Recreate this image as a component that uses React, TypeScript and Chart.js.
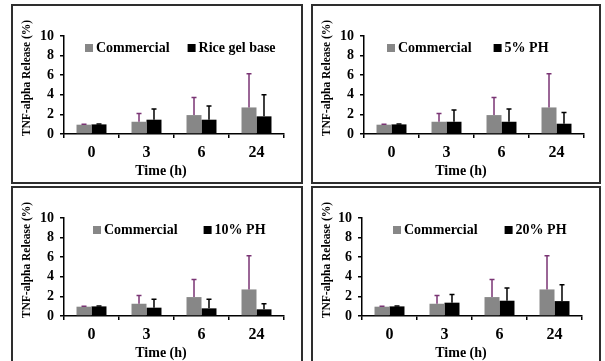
import React, { useEffect, useRef } from 'react';
import { Chart, registerables } from 'chart.js';

Chart.register(...registerables);

// ---------- data ----------
const timeLabels = ['0', '3', '6', '24'];
const yMin = 0;
const yMax = 10;
const yStep = 2;
const xTitle = 'Time (h)';
const yTitle = 'TNF-alpha Release (%)';

const commercialLabel = 'Commercial';
const commercialMean = [0.95, 1.25, 1.93, 2.71];
const commercialErr = [0.04, 0.83, 1.8, 3.45];

const riceGelLabel = 'Rice gel base';
const riceGelMean = [0.98, 1.46, 1.46, 1.8];
const riceGelErr = [0.04, 1.08, 1.39, 2.2];

const ph5Label = '5% PH';
const ph5Mean = [0.98, 1.25, 1.25, 1.05];
const ph5Err = [0.04, 1.19, 1.3, 1.15];

const ph10Label = '10% PH';
const ph10Mean = [0.98, 0.85, 0.78, 0.68];
const ph10Err = [0.04, 0.85, 0.92, 0.58];

const ph20Label = '20% PH';
const ph20Mean = [0.98, 1.36, 1.56, 1.52];
const ph20Err = [0.04, 0.84, 1.29, 1.68];

// ---------- layout / style ----------
const FONT = "'Liberation Serif', 'Times New Roman', serif";
const GRAY = '#878787';
const BLACK = '#000000';
const PURPLE = '#7a3474';

const panelLayouts = [
  { left: 11, top: 4, width: 292, height: 180, chartLeft: 53, legendStart: 21, legendGap: 18 },
  { left: 311, top: 4, width: 290, height: 180, chartLeft: 53, legendStart: 23, legendGap: 22 },
  { left: 11, top: 186, width: 292, height: 180, chartLeft: 53, legendStart: 29, legendGap: 26 },
  { left: 311, top: 186, width: 290, height: 180, chartLeft: 51, legendStart: 31, legendGap: 27 },
];

const panelSeries = [
  { label: riceGelLabel, mean: riceGelMean, err: riceGelErr },
  { label: ph5Label, mean: ph5Mean, err: ph5Err },
  { label: ph10Label, mean: ph10Mean, err: ph10Err },
  { label: ph20Label, mean: ph20Mean, err: ph20Err },
];

const decorPlugin = {
  id: 'decor',
  afterDatasetsDraw(chart: any) {
    const ctx = chart.ctx;
    const y = chart.scales.y;
    chart.data.datasets.forEach((ds: any, i: number) => {
      const meta = chart.getDatasetMeta(i);
      meta.data.forEach((bar: any, j: number) => {
        const v = ds.data[j];
        const e = ds.errors[j];
        const yTop = y.getPixelForValue(v + e);
        const yBase = y.getPixelForValue(v);
        ctx.save();
        ctx.strokeStyle = ds.errorColor;
        ctx.lineWidth = 1.5;
        ctx.beginPath();
        ctx.moveTo(bar.x, yBase);
        ctx.lineTo(bar.x, yTop);
        ctx.moveTo(bar.x - 2.5, yTop);
        ctx.lineTo(bar.x + 2.5, yTop);
        ctx.stroke();
        ctx.restore();
      });
    });
  },
  afterDraw(chart: any, _args: any, opts: any) {
    const ctx = chart.ctx;
    const area = chart.chartArea;
    ctx.save();
    // legend
    ctx.font = `bold 14px ${FONT}`;
    ctx.textBaseline = 'middle';
    ctx.textAlign = 'left';
    let x = area.left + opts.legendStart;
    const ly = area.top + 12;
    chart.data.datasets.forEach((ds: any) => {
      ctx.fillStyle = ds.backgroundColor;
      ctx.fillRect(x, ly - 4, 8, 8);
      ctx.fillStyle = '#000';
      ctx.fillText(ds.label, x + 11, ly);
      x += 11 + ctx.measureText(ds.label).width + opts.legendGap;
    });
    // x title
    ctx.font = `bold 14px ${FONT}`;
    ctx.textAlign = 'center';
    ctx.fillText(opts.xTitle, 150, 167);
    // y title
    ctx.font = `bold 11.5px ${FONT}`;
    ctx.translate(16, 74);
    ctx.rotate(-Math.PI / 2);
    ctx.fillText(opts.yTitle, 0, 0);
    ctx.restore();
  },
};

function Panel({ idx }: { idx: number }) {
  const ref = useRef<HTMLCanvasElement>(null);
  const L = panelLayouts[idx];
  const S = panelSeries[idx];
  useEffect(() => {
    const chart = new Chart(ref.current as HTMLCanvasElement, {
      type: 'bar',
      data: {
        labels: timeLabels,
        datasets: [
          {
            label: commercialLabel,
            data: commercialMean,
            errors: commercialErr,
            errorColor: PURPLE,
            backgroundColor: GRAY,
            borderWidth: 0,
            barPercentage: 1,
            categoryPercentage: 0.545,
          } as any,
          {
            label: S.label,
            data: S.mean,
            errors: S.err,
            errorColor: BLACK,
            backgroundColor: BLACK,
            borderWidth: 0,
            barPercentage: 1,
            categoryPercentage: 0.545,
          } as any,
        ],
      },
      options: {
        responsive: false,
        animation: false,
        devicePixelRatio: 1,
        layout: {
          padding: { top: 32, left: 0, bottom: 0, right: L.width - L.chartLeft - 220 },
        },
        plugins: {
          legend: { display: false },
          tooltip: { enabled: false },
          decor: {
            legendStart: L.legendStart,
            legendGap: L.legendGap,
            xTitle,
            yTitle,
          },
        } as any,
        scales: {
          x: {
            offset: true,
            grid: {
              offset: true,
              drawOnChartArea: false,
              drawTicks: true,
              tickLength: 4,
              color: '#000',
              lineWidth: 1.5,
            },
            border: { display: true, color: '#000', width: 1.5 },
            ticks: {
              font: { family: FONT, size: 16, weight: 'bold' },
              color: '#000',
              padding: 5,
              maxRotation: 0,
              autoSkip: false,
            },
            afterFit: (s: any) => {
              s.height = 50;
            },
          },
          y: {
            min: yMin,
            max: yMax,
            ticks: {
              stepSize: yStep,
              autoSkip: false,
              font: { family: FONT, size: 14, weight: 'bold' },
              color: '#000',
              padding: 6,
            },
            grid: {
              drawOnChartArea: false,
              drawTicks: true,
              tickLength: 4,
              color: '#000',
              lineWidth: 1.5,
            },
            border: { display: true, color: '#000', width: 1.5 },
            afterFit: (s: any) => {
              s.width = L.chartLeft;
            },
          },
        },
      } as any,
      plugins: [decorPlugin as any],
    });
    return () => chart.destroy();
  }, []);
  return (
    <div
      style={{
        position: 'absolute',
        left: L.left,
        top: L.top,
        width: L.width,
        height: L.height,
        background: '#fff',
      }}
    >
      <canvas
        ref={ref}
        width={L.width}
        height={L.height}
        style={{ display: 'block', width: L.width, height: L.height }}
      />
      <div
        style={{
          position: 'absolute',
          left: 0,
          top: 0,
          width: L.width,
          height: L.height,
          boxSizing: 'border-box',
          border: '2px solid #2e2e2e',
          pointerEvents: 'none',
        }}
      />
    </div>
  );
}

export default function App() {
  return (
    <div
      style={{
        position: 'absolute',
        left: 0,
        top: 0,
        width: 605,
        height: 361,
        overflow: 'hidden',
        background: '#fff',
      }}
    >
      {panelLayouts.map((_, i) => (
        <Panel key={i} idx={i} />
      ))}
    </div>
  );
}
